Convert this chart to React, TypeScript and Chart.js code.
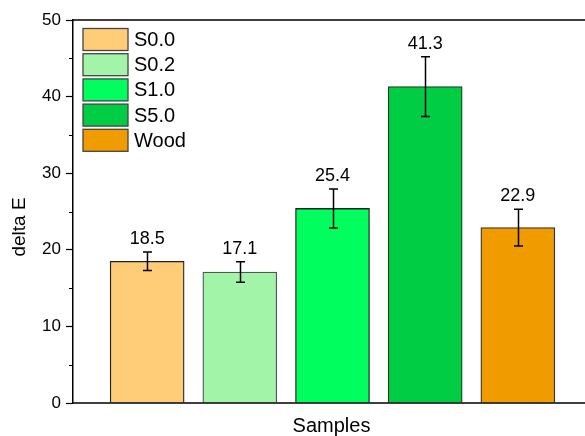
import React, { useEffect, useRef } from "react";
import { Chart, registerables } from "chart.js";

Chart.register(...registerables);

const categories = ["S0.0", "S0.2", "S1.0", "S5.0", "Wood"];
const values = [18.5, 17.1, 25.4, 41.3, 22.9];
const errors = [1.2, 1.35, 2.55, 3.9, 2.4];
const positions = [1, 2, 3, 4, 5];
const fillColors = ["#FFCC77", "#A2F5A8", "#00FF5E", "#00CC44", "#F09C00"];
const borderColors = ["#222222", "#555555", "#222222", "#1f3f1f", "#333333"];
const yTitle = "delta E";
const xTitle = "Samples";

const FONT = "'Liberation Sans', Arial, sans-serif";

export default function App() {
  const ref = useRef<HTMLCanvasElement | null>(null);

  useEffect(() => {
    const canvas = ref.current;
    if (!canvas) return;

    const decor = {
      id: "decor",
      afterDatasetsDraw(chart: any) {
        const ctx = chart.ctx;
        const y = chart.scales.y;
        const area = chart.chartArea;
        const meta = chart.getDatasetMeta(0);
        ctx.save();
        // error bars + value labels
        ctx.strokeStyle = "#000";
        ctx.lineWidth = 1.5;
        ctx.fillStyle = "#000";
        ctx.font = `18px ${FONT}`;
        ctx.textAlign = "center";
        ctx.textBaseline = "alphabetic";
        meta.data.forEach((el: any, i: number) => {
          const x = Math.round(el.x) + 0.5;
          const top = y.getPixelForValue(values[i] + errors[i]);
          const bot = y.getPixelForValue(values[i] - errors[i]);
          ctx.beginPath();
          ctx.moveTo(x, top);
          ctx.lineTo(x, bot);
          ctx.moveTo(x - 4.5, top);
          ctx.lineTo(x + 4.5, top);
          ctx.moveTo(x - 4.5, bot);
          ctx.lineTo(x + 4.5, bot);
          ctx.stroke();
          ctx.fillText(values[i].toFixed(1), el.x, top - 8);
        });
        // frame: top line, bottom axis, right axis
        ctx.lineWidth = 1.5;
        ctx.beginPath();
        ctx.moveTo(area.left, area.top);
        ctx.lineTo(area.right, area.top);
        ctx.moveTo(area.left, area.bottom);
        ctx.lineTo(area.right, area.bottom);
        ctx.moveTo(area.right, area.top);
        ctx.lineTo(area.right, area.bottom);
        ctx.stroke();
        // minor ticks left, ticks right
        ctx.lineWidth = 1.2;
        ctx.beginPath();
        for (let v = 0; v <= 50; v += 5) {
          const py = Math.round(y.getPixelForValue(v)) + 0.5;
          const major = v % 10 === 0;
          if (!major) {
            ctx.moveTo(area.left - 4, py);
            ctx.lineTo(area.left, py);
          }
          ctx.moveTo(area.right - (major ? 7 : 4), py);
          ctx.lineTo(area.right, py);
        }
        ctx.stroke();
        // legend
        const boxX = 83;
        const boxW = 45;
        const boxH = 22;
        ctx.font = `20px ${FONT}`;
        ctx.textAlign = "left";
        ctx.textBaseline = "middle";
        categories.forEach((c, i) => {
          const by = 28.5 + i * 25.2;
          ctx.fillStyle = fillColors[i];
          ctx.fillRect(boxX, by, boxW, boxH);
          ctx.strokeStyle = "#444";
          ctx.lineWidth = 1.3;
          ctx.strokeRect(boxX, by, boxW, boxH);
          ctx.fillStyle = "#000";
          ctx.fillText(c, 134, by + boxH / 2 + 1);
        });
        // axis titles
        ctx.font = `19px ${FONT}`;
        ctx.textAlign = "center";
        ctx.textBaseline = "middle";
        ctx.save();
        ctx.translate(20, 227);
        ctx.rotate(-Math.PI / 2);
        ctx.fillText(yTitle, 0, 0);
        ctx.restore();
        ctx.font = `20px ${FONT}`;
        ctx.textBaseline = "alphabetic";
        ctx.fillText(xTitle, 331.5, 432);
        ctx.restore();
      },
    };

    const bg = {
      id: "bg",
      beforeDraw(chart: any) {
        const ctx = chart.ctx;
        ctx.save();
        ctx.fillStyle = "#fff";
        ctx.fillRect(0, 0, chart.width, chart.height);
        ctx.restore();
      },
    };

    const chart = new Chart(canvas, {
      type: "bar",
      data: {
        datasets: [
          {
            label: "delta E",
            data: positions.map((p, i) => ({ x: p, y: values[i] })),
            backgroundColor: fillColors,
            borderColor: borderColors,
            borderWidth: 1.3,
            barThickness: 74,
          },
        ],
      },
      options: {
        responsive: false,
        animation: false,
        devicePixelRatio: 1,
        layout: { padding: { left: 0, top: 20, right: 8, bottom: 33 } },
        plugins: { legend: { display: false }, tooltip: { enabled: false } },
        scales: {
          x: { type: "linear", min: 0.2, max: 5.8, offset: false, display: false },
          y: {
            min: 0,
            max: 50,
            ticks: {
              stepSize: 10,
              color: "#000",
              padding: 5,
              font: { family: FONT, size: 17 },
            },
            grid: {
              drawOnChartArea: false,
              drawTicks: true,
              tickLength: 7,
              color: "#000",
              tickWidth: 1.2,
            },
            border: { display: true, color: "#000", width: 1.5 },
            afterFit(scale: any) {
              scale.width = 73;
            },
          },
        },
      },
      plugins: [bg, decor],
    });

    return () => chart.destroy();
  }, []);

  return (
    <div style={{ position: "fixed", left: 0, top: 0, width: 600, height: 436 }}>
      <canvas ref={ref} width={600} height={436} style={{ display: "block" }} />
    </div>
  );
}
